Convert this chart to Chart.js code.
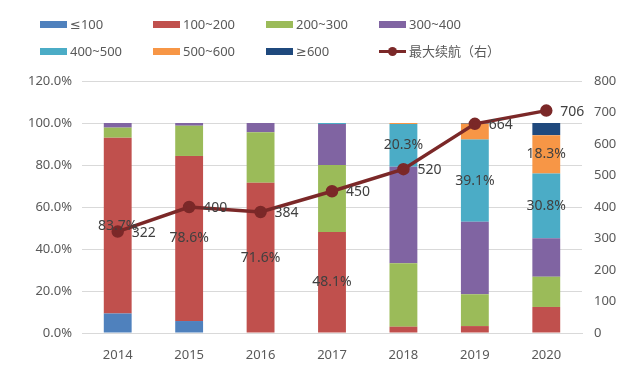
<!DOCTYPE html>
<html>
<head>
<meta charset="utf-8">
<script src="https://cdn.jsdelivr.net/npm/chart.js@4/dist/chart.umd.min.js"></script>
<style>
  html, body { margin: 0; padding: 0; background: #fff; }
  #wrap { position: relative; width: 640px; height: 368px; }
  #legend { position: absolute; left: 40px; top: 15px; width: 520px; font: 13px "Noto Sans", "DejaVu Sans", "Noto Sans CJK SC", sans-serif; color: #595959; }
  .item { position: absolute; height: 18px; line-height: 18px; white-space: nowrap; }
  .sw { display: inline-block; width: 27px; height: 7px; vertical-align: middle; margin-right: 3px; position: relative; top: -1px; }
  .ln { display: inline-block; width: 27px; height: 3px; vertical-align: middle; margin-right: 3px; position: relative; top: -1px; }
  .ln i { position: absolute; left: 9px; top: -3px; width: 9px; height: 9px; border-radius: 50%; }
</style>
</head>
<body>
<div id="wrap">
  <canvas id="c" width="640" height="368"></canvas>
  <div id="legend"></div>
</div>
<script>
// categories
const years = ['2014', '2015', '2016', '2017', '2018', '2019', '2020'];

// share of models by range band (%)
const le100   = [9.3, 5.7, 0, 0, 0, 0, 0];
const r100200 = [83.7, 78.6, 71.6, 48.1, 3.0, 3.3, 12.4];
const r200300 = [4.8, 14.4, 24.0, 31.9, 30.2, 15.1, 14.4];
const r300400 = [2.2, 1.3, 4.4, 19.5, 46.0, 34.6, 18.3];
const r400500 = [0, 0, 0, 0.5, 20.3, 39.1, 30.8];
const r500600 = [0, 0, 0, 0, 0.5, 7.6, 18.3];
const ge600   = [0, 0, 0, 0, 0, 0.3, 5.8];

// max range (km), right axis
const maxRange = [322, 400, 384, 450, 520, 664, 706];

// which bar segments carry a value label: [series index, year index]
const labeled = [[1, 0], [1, 1], [1, 2], [1, 3], [4, 4], [4, 5], [4, 6], [5, 6]];

const names = ['≤100', '100~200', '200~300', '300~400', '400~500', '500~600', '≥600', '最大续航（右）'];
const colors = ['#4F81BD', '#C0504D', '#9BBB59', '#8064A2', '#4BACC6', '#F79646', '#1F497D', '#7B2828'];

const series = [le100, r100200, r200300, r300400, r400500, r500600, ge600];
const FONT = '"Noto Sans", "DejaVu Sans", "Noto Sans CJK SC", sans-serif';

const datasets = series.map((d, i) => ({
  type: 'bar',
  label: names[i],
  data: d,
  backgroundColor: colors[i],
  yAxisID: 'y',
  order: 2,
  barPercentage: 0.39,
  categoryPercentage: 1.0
}));
datasets.push({
  type: 'line',
  label: names[7],
  data: maxRange,
  borderColor: colors[7],
  backgroundColor: colors[7],
  borderWidth: 3.5,
  pointRadius: 4.5,
  pointHoverRadius: 4.5,
  yAxisID: 'y2',
  order: 0,
  tension: 0
});

// html legend, 4 columns x 2 rows
const leg = document.getElementById('legend');
names.forEach((n, i) => {
  const d = document.createElement('div');
  d.className = 'item';
  d.style.left = (i % 4) * 113 + 'px';
  d.style.top = Math.floor(i / 4) * 27 + 'px';
  if (i < 7) {
    d.innerHTML = `<span class="sw" style="background:${colors[i]}"></span>${n}`;
  } else {
    d.innerHTML = `<span class="ln" style="background:${colors[i]}"><i style="background:${colors[i]}"></i></span>${n}`;
  }
  leg.appendChild(d);
});

const labelPlugin = {
  id: 'labels',
  afterDatasetsDraw(chart) {
    const ctx = chart.ctx;
    ctx.save();
    ctx.font = '14px ' + FONT;
    ctx.fillStyle = '#404040';
    ctx.textAlign = 'center';
    ctx.textBaseline = 'middle';
    labeled.forEach(([s, j]) => {
      const el = chart.getDatasetMeta(s).data[j];
      ctx.fillText(series[s][j].toFixed(1) + '%', el.x, (el.y + el.base) / 2);
    });
    ctx.textAlign = 'left';
    const meta = chart.getDatasetMeta(7);
    meta.data.forEach((p, j) => {
      ctx.fillText(String(maxRange[j]), p.x + 14, p.y + 1);
    });
    ctx.restore();
  }
};

new Chart(document.getElementById('c'), {
  data: { labels: years, datasets },
  options: {
    responsive: false,
    animation: false,
    layout: { padding: { top: 81, left: 0, right: 0, bottom: 0 } },
    plugins: { legend: { display: false }, tooltip: { enabled: false } },
    scales: {
      x: {
        stacked: true,
        grid: { display: false },
        border: { color: '#d9d9d9' },
        ticks: { color: '#595959', font: { size: 13, family: FONT }, padding: 6 },
        afterFit(s) { s.height = 35; }
      },
      y: {
        stacked: true,
        position: 'left',
        min: 0, max: 120,
        ticks: { stepSize: 20, color: '#595959', font: { size: 13, family: FONT }, padding: 10,
                 callback: v => v.toFixed(1) + '%' },
        grid: { color: '#d9d9d9', drawTicks: false },
        border: { display: false },
        afterFit(s) { s.width = 82; }
      },
      y2: {
        stacked: false,
        position: 'right',
        min: 0, max: 800,
        ticks: { stepSize: 100, color: '#595959', font: { size: 13, family: FONT }, padding: 12 },
        grid: { display: false, drawTicks: false },
        border: { display: false },
        afterFit(s) { s.width = 58; }
      }
    }
  },
  plugins: [labelPlugin]
});
</script>
</body>
</html>
